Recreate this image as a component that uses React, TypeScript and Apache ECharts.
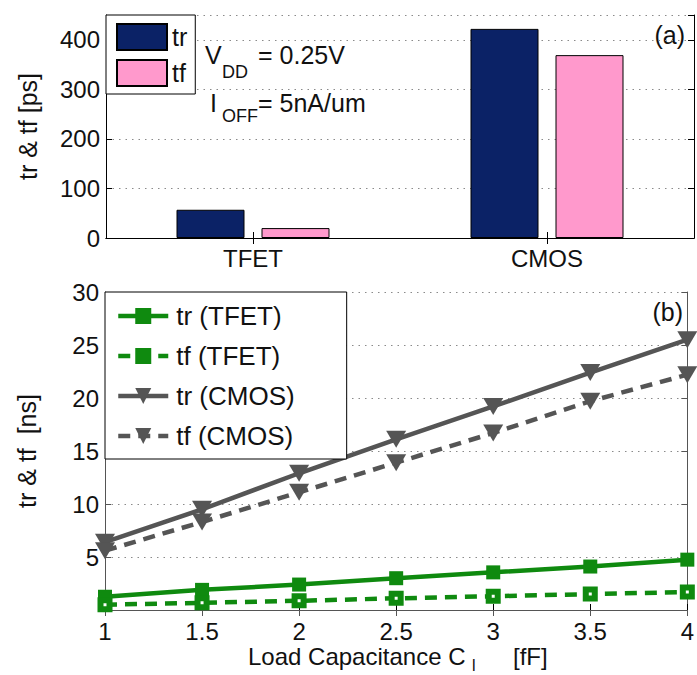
import React, { useEffect, useRef } from 'react';
import * as echarts from 'echarts';

// ---- Panel (a) data ----
const devices = ['TFET', 'CMOS'];
const trPs = [57, 422];
const tfPs = [20, 369];

// ---- Panel (b) data ----
const loadCap = [1, 1.5, 2, 2.5, 3, 3.5, 4];
const trTfet = [1.25, 1.9, 2.4, 3.0, 3.55, 4.1, 4.75];
const tfTfet = [0.5, 0.68, 0.87, 1.1, 1.3, 1.5, 1.7];
const trCmos = [6.4, 9.5, 12.9, 16.1, 19.2, 22.4, 25.5];
const tfCmos = [5.6, 8.3, 11.1, 13.9, 16.7, 19.7, 22.2];

const FONT = 'Liberation Sans, Arial, Helvetica, sans-serif';
const NAVY = '#0b2266';
const PINK = '#ff99cc';
const GREEN = '#0f8a0f';
const GRAY = '#555555';
const TXT = '#111111';

const pair = (ys: number[]) => loadCap.map((x, i) => [x, ys[i]]);

function txt(text: string, x: number, y: number, fontSize: number, align: string = 'left') {
  return {
    type: 'text',
    x,
    y,
    silent: true,
    style: {
      text,
      fontSize,
      fontFamily: FONT,
      fill: TXT,
      align,
      verticalAlign: 'middle',
      textAlign: align,
      textVerticalAlign: 'middle',
    },
  };
}

export default function App() {
  const ref = useRef<HTMLDivElement>(null);

  useEffect(() => {
    if (!ref.current) return;
    const chart = echarts.init(ref.current, undefined, { renderer: 'svg' });

    const tickInside = (color: string) => ({
      show: true,
      inside: true,
      length: 6,
      lineStyle: { color, width: 1 },
    });
    const dotted = {
      show: true,
      lineStyle: { color: '#8a8a8a', width: 1, type: [1.5, 5] as any },
    };
    const labelStyle = { fontSize: 24, color: TXT, fontFamily: FONT };

    const option: any = {
      animation: false,
      backgroundColor: '#ffffff',
      grid: [
        { left: 106, top: 15, width: 588, height: 223 },
        { left: 105, top: 292, width: 587, height: 318 },
      ],
      xAxis: [
        {
          gridIndex: 0,
          type: 'category',
          data: devices,
          position: 'bottom',
          axisLine: { show: true, lineStyle: { color: '#000', width: 1 } },
          axisTick: { ...tickInside('#000'), alignWithLabel: true },
          axisLabel: { ...labelStyle, margin: 8 },
          splitLine: { show: false },
        },
        {
          gridIndex: 0,
          type: 'category',
          data: devices,
          position: 'top',
          axisLine: { show: true, lineStyle: { color: '#000', width: 1 } },
          axisTick: { ...tickInside('#000'), alignWithLabel: true },
          axisLabel: { show: false },
          splitLine: { show: false },
        },
        {
          gridIndex: 1,
          type: 'value',
          min: 1,
          max: 4,
          interval: 0.5,
          position: 'bottom',
          axisLine: { show: true, lineStyle: { color: '#000', width: 1 } },
          axisTick: tickInside('#000'),
          axisLabel: { ...labelStyle, margin: 9 },
          splitLine: { show: false },
        },
        {
          gridIndex: 1,
          type: 'value',
          min: 1,
          max: 4,
          interval: 0.5,
          position: 'top',
          axisLine: { show: true, lineStyle: { color: GRAY, width: 1 } },
          axisTick: tickInside(GRAY),
          axisLabel: { show: false },
          splitLine: { show: false },
        },
      ],
      yAxis: [
        {
          gridIndex: 0,
          type: 'value',
          min: 0,
          max: 450,
          interval: 100,
          position: 'left',
          axisLine: { show: true, lineStyle: { color: '#000', width: 1 } },
          axisTick: tickInside('#000'),
          axisLabel: { ...labelStyle, margin: 6, showMaxLabel: false },
          splitLine: dotted,
          name: 'tr & tf [ps]',
          nameLocation: 'middle',
          nameGap: 66,
          nameTextStyle: { fontSize: 25, color: TXT, fontFamily: FONT },
        },
        {
          gridIndex: 0,
          type: 'value',
          min: 0,
          max: 450,
          interval: 100,
          position: 'right',
          axisLine: { show: true, lineStyle: { color: '#000', width: 1 } },
          axisTick: tickInside('#000'),
          axisLabel: { show: false },
          splitLine: { show: false },
        },
        {
          gridIndex: 1,
          type: 'value',
          min: 0,
          max: 30,
          interval: 5,
          position: 'left',
          axisLine: { show: true, lineStyle: { color: GRAY, width: 1 } },
          axisTick: tickInside(GRAY),
          axisLabel: { ...labelStyle, margin: 6, showMinLabel: false },
          splitLine: dotted,
          name: 'tr & tf  [ns]',
          nameLocation: 'middle',
          nameGap: 66,
          nameTextStyle: { fontSize: 25, color: TXT, fontFamily: FONT },
        },
        {
          gridIndex: 1,
          type: 'value',
          min: 0,
          max: 30,
          interval: 5,
          position: 'right',
          axisLine: { show: true, lineStyle: { color: GRAY, width: 1 } },
          axisTick: tickInside(GRAY),
          axisLabel: { show: false },
          splitLine: { show: false },
        },
      ],
      legend: [
        {
          data: ['tr', 'tf'],
          left: 106,
          top: 15,
          orient: 'vertical',
          icon: 'rect',
          itemWidth: 50,
          itemHeight: 26,
          itemGap: 8,
          padding: [8, 8, 7, 10],
          backgroundColor: '#ffffff',
          borderColor: '#000',
          borderWidth: 1,
          borderRadius: 0,
          selectedMode: false,
          textStyle: { fontSize: 25, color: TXT, fontFamily: FONT },
        },
        {
          data: [
            { name: 'tr (TFET)' },
            { name: 'tf (TFET)', itemStyle: { color: GREEN, borderWidth: 0 } },
            { name: 'tr (CMOS)' },
            { name: 'tf (CMOS)' },
          ],
          left: 105,
          top: 292,
          orient: 'vertical',
          itemWidth: 50,
          itemHeight: 20,
          itemGap: 14,
          padding: [11, 52, 10, 11],
          backgroundColor: '#ffffff',
          borderColor: '#000',
          borderWidth: 1,
          borderRadius: 0,
          selectedMode: false,
          lineStyle: { width: 4.5 },
          textStyle: { fontSize: 26, color: TXT, fontFamily: FONT, padding: [0, 0, 0, 3] },
        },
      ],
      series: [
        {
          name: 'tr',
          type: 'bar',
          xAxisIndex: 0,
          yAxisIndex: 0,
          data: trPs,
          barWidth: 68,
          barGap: '25%',
          itemStyle: { color: NAVY, borderColor: '#000', borderWidth: 1 },
        },
        {
          name: 'tf',
          type: 'bar',
          xAxisIndex: 0,
          yAxisIndex: 0,
          data: tfPs,
          barWidth: 68,
          barGap: '25%',
          itemStyle: { color: PINK, borderColor: '#000', borderWidth: 1 },
        },
        {
          name: 'tr (TFET)',
          type: 'line',
          xAxisIndex: 2,
          yAxisIndex: 2,
          data: pair(trTfet),
          symbol: 'rect',
          symbolSize: 14,
          lineStyle: { color: GREEN, width: 4.5 },
          itemStyle: { color: GREEN },
          z: 3,
        },
        {
          name: 'tf (TFET)',
          type: 'line',
          xAxisIndex: 2,
          yAxisIndex: 2,
          data: pair(tfTfet),
          symbol: 'rect',
          symbolSize: 9,
          lineStyle: { color: GREEN, width: 4.5, type: [12, 8] },
          itemStyle: { color: '#ffffff', borderColor: GREEN, borderWidth: 6 },
          z: 3,
        },
        {
          name: 'tr (CMOS)',
          type: 'line',
          xAxisIndex: 2,
          yAxisIndex: 2,
          data: pair(trCmos),
          symbol: 'triangle',
          symbolRotate: 180,
          symbolSize: [20, 17],
          lineStyle: { color: GRAY, width: 4.5 },
          itemStyle: { color: GRAY },
          z: 3,
        },
        {
          name: 'tf (CMOS)',
          type: 'line',
          xAxisIndex: 2,
          yAxisIndex: 2,
          data: pair(tfCmos),
          symbol: 'triangle',
          symbolRotate: 180,
          symbolSize: [20, 17],
          lineStyle: { color: GRAY, width: 4.5, type: [12, 8] },
          itemStyle: { color: GRAY },
          z: 3,
        },
      ],
      graphic: [
        txt('(a)', 685, 35, 25, 'right'),
        txt('(b)', 683, 312, 25, 'right'),
        txt('V', 205, 55, 25),
        txt('DD', 222, 71.7, 18),
        txt('= 0.25V', 258, 55, 25),
        txt('I', 210, 103, 25),
        txt('OFF', 222, 115.7, 18),
        txt('= 5nA/um', 258, 103, 25),
        txt('Load Capacitance C', 248, 656.6, 24),
        txt('l', 472, 665, 16),
        txt('[fF]', 513, 656.6, 24),
      ],
    };

    chart.setOption(option);
    return () => chart.dispose();
  }, []);

  return (
    <div
      ref={ref}
      style={{ position: 'fixed', left: 0, top: 0, width: 697, height: 675 }}
    />
  );
}
